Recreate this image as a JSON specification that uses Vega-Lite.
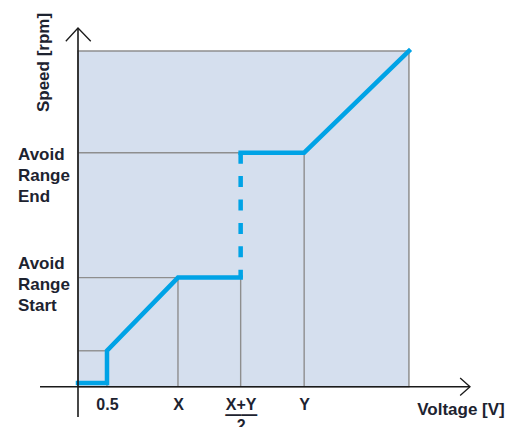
{
  "$schema": "https://vega.github.io/schema/vega-lite/v6.json",
  "width": 392,
  "height": 358.7,
  "autosize": "none",
  "padding": {"left": 78, "top": 28, "right": 49, "bottom": 40.3},
  "background": "white",
  "config": {"view": {"stroke": null}},
  "datasets": {
    "zone": [{"x0": 0, "x1": 5.707, "y0": 0, "y1": 100}],
    "guides": [
      {"x0": 0, "x1": 0.5, "y0": 10.7, "y1": 10.7},
      {"x0": 0.5, "x1": 0.5, "y0": 0, "y1": 10.7},
      {"x0": 0, "x1": 2.805, "y0": 32.5, "y1": 32.5},
      {"x0": 1.724, "x1": 1.724, "y0": 0, "y1": 32.5},
      {"x0": 2.805, "x1": 2.805, "y0": 0, "y1": 32.5},
      {"x0": 0, "x1": 3.9, "y0": 69.7, "y1": 69.7},
      {"x0": 3.9, "x1": 3.9, "y0": 0, "y1": 69.7}
    ],
    "curve": [
      {"seg": "a", "o": 1, "v": 0, "s": 1.1},
      {"seg": "a", "o": 2, "v": 0.5, "s": 1.1},
      {"seg": "a", "o": 3, "v": 0.5, "s": 10.7},
      {"seg": "a", "o": 4, "v": 1.724, "s": 32.5},
      {"seg": "a", "o": 5, "v": 2.805, "s": 32.5},
      {"seg": "c", "o": 1, "v": 2.805, "s": 69.7},
      {"seg": "c", "o": 2, "v": 3.9, "s": 69.7},
      {"seg": "c", "o": 3, "v": 5.707, "s": 100}
    ],
    "jump": [
      {"o": 1, "v": 2.805, "s": 69.7},
      {"o": 2, "v": 2.805, "s": 32.5}
    ],
    "axes": [
      {"x0": -0.655, "x1": 6.76, "y0": 0, "y1": 0},
      {"x0": 0, "x1": 0, "y0": -9.0, "y1": 106.85}
    ],
    "arrows": [
      {"id": "right", "o": 1, "ax": 6.59, "ay": 2.6},
      {"id": "right", "o": 2, "ax": 6.76, "ay": 0},
      {"id": "right", "o": 3, "ax": 6.59, "ay": -2.6},
      {"id": "up", "o": 1, "ax": -0.21, "ay": 102.9},
      {"id": "up", "o": 2, "ax": 0, "ay": 106.85},
      {"id": "up", "o": 3, "ax": 0.22, "ay": 102.9}
    ]
  },
  "layer": [
    {
      "data": {"name": "zone"},
      "mark": {"type": "rect", "fill": "#d5dfee", "stroke": "#8e8e8e", "strokeWidth": 1.5},
      "encoding": {
        "x": {
          "field": "x0", "type": "quantitative",
          "scale": {"domain": [0, 6.76], "nice": false, "zero": false},
          "axis": {
            "domain": false, "grid": false, "ticks": false, "tickSize": 0,
            "values": [0.5, 1.724, 2.805, 3.9],
            "labelExpr": "datum.value == 0.5 ? '0.5' : datum.value == 1.724 ? 'X' : datum.value == 3.9 ? 'Y' : ['X+Y', '——', '2']",
            "labelFont": "Liberation Sans", "labelFontSize": 16, "labelFontWeight": "bold",
            "labelColor": "#1d2330", "labelBaseline": "alphabetic", "labelPadding": 22.3,
            "labelLineHeight": 10.5, "labelFlush": false, "labelOverlap": false,
            "title": "Voltage [V]", "titleFont": "Liberation Sans", "titleFontSize": 17,
            "titleFontWeight": "bold", "titleColor": "#1d2330",
            "titleX": 382.5, "titleY": 27.3, "titleAlign": "center", "titleBaseline": "alphabetic"
          }
        },
        "x2": {"field": "x1"},
        "y": {
          "field": "y0", "type": "quantitative",
          "scale": {"domain": [0, 106.85], "nice": false, "zero": false},
          "axis": {
            "domain": false, "grid": false, "ticks": false, "tickSize": 0,
            "values": [32.5, 69.7],
            "labelExpr": "datum.value > 50 ? ['Avoid', 'Range', 'End'] : ['Avoid', 'Range', 'Start']",
            "labelFont": "Liberation Sans", "labelFontSize": 17, "labelFontWeight": "bold",
            "labelColor": "#1d2330", "labelAlign": "left", "labelBaseline": "alphabetic",
            "labelPadding": 60.5, "labelLineHeight": 21, "labelFlush": false, "labelOverlap": false,
            "labelOffset": {"condition": {"test": "datum.value > 50", "value": 7}, "value": -9.5},
            "title": "Speed [rpm]", "titleFont": "Liberation Sans", "titleFontSize": 17,
            "titleFontWeight": "bold", "titleColor": "#1d2330", "titleAngle": -90,
            "titleX": -29.5, "titleY": 34, "titleAlign": "center", "titleBaseline": "alphabetic"
          }
        },
        "y2": {"field": "y1"}
      }
    },
    {
      "data": {"name": "guides"},
      "mark": {"type": "rule", "stroke": "#8e8e8e", "strokeWidth": 1.4},
      "encoding": {
        "x": {"field": "x0", "type": "quantitative"},
        "x2": {"field": "x1"},
        "y": {"field": "y0", "type": "quantitative"},
        "y2": {"field": "y1"}
      }
    },
    {
      "data": {"name": "curve"},
      "mark": {"type": "line", "stroke": "#00a3e6", "strokeWidth": 4.5, "strokeCap": "square", "strokeJoin": "miter", "clip": false},
      "encoding": {
        "x": {"field": "v", "type": "quantitative"},
        "y": {"field": "s", "type": "quantitative"},
        "detail": {"field": "seg"},
        "order": {"field": "o"}
      }
    },
    {
      "data": {"name": "jump"},
      "mark": {"type": "line", "stroke": "#00a3e6", "strokeWidth": 4.5, "strokeDash": [11, 12.4]},
      "encoding": {
        "x": {"field": "v", "type": "quantitative"},
        "y": {"field": "s", "type": "quantitative"},
        "order": {"field": "o"}
      }
    },
    {
      "data": {"name": "axes"},
      "mark": {"type": "rule", "stroke": "#1a1a1a", "strokeWidth": 1.6, "clip": false},
      "encoding": {
        "x": {"field": "x0", "type": "quantitative"},
        "x2": {"field": "x1"},
        "y": {"field": "y0", "type": "quantitative"},
        "y2": {"field": "y1"}
      }
    },
    {
      "data": {"name": "arrows"},
      "mark": {"type": "line", "stroke": "#1a1a1a", "strokeWidth": 1.3, "clip": false},
      "encoding": {
        "x": {"field": "ax", "type": "quantitative"},
        "y": {"field": "ay", "type": "quantitative"},
        "detail": {"field": "id"},
        "order": {"field": "o"}
      }
    }
  ]
}
